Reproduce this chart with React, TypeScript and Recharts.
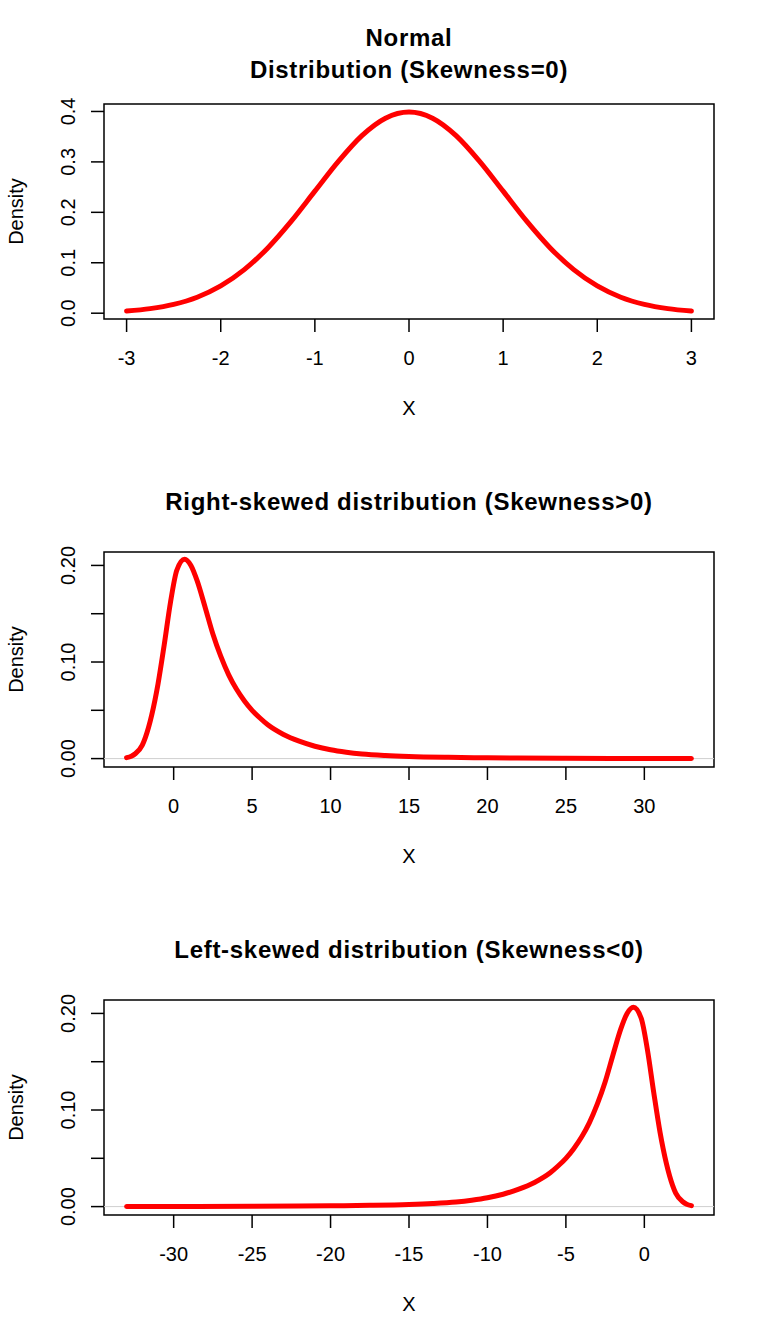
import React from 'react';
import { LineChart, Line, XAxis, YAxis, ReferenceArea, ReferenceLine, Label } from 'recharts';

// ---- data ----
const normalX = [-3, -2.75, -2.5, -2.25, -2, -1.75, -1.5, -1.25, -1, -0.75, -0.5, -0.25, 0, 0.25, 0.5, 0.75, 1, 1.25, 1.5, 1.75, 2, 2.25, 2.5, 2.75, 3];
const normalY = [0.0044, 0.0091, 0.0175, 0.0317, 0.054, 0.0863, 0.1295, 0.1826, 0.242, 0.3011, 0.3521, 0.3867, 0.3989, 0.3867, 0.3521, 0.3011, 0.242, 0.1826, 0.1295, 0.0863, 0.054, 0.0317, 0.0175, 0.0091, 0.0044];

const rightX = [-3, -2.7, -2.45, -2, -1.8, -1.4, -1, -0.6, -0.2, 0.2, 0.7, 1.1, 1.5, 2, 2.5, 3, 3.5, 4, 4.5, 5, 5.5, 6, 7, 8, 9, 10, 11, 12, 13.5, 15, 17.5, 20, 25, 30, 33];
const rightY = [0.001, 0.0025, 0.005, 0.014, 0.022, 0.045, 0.077, 0.118, 0.162, 0.195, 0.2065, 0.2, 0.184, 0.157, 0.129, 0.106, 0.087, 0.072, 0.06, 0.05, 0.042, 0.035, 0.025, 0.018, 0.0128, 0.0091, 0.0066, 0.0048, 0.0032, 0.0022, 0.0013, 0.0008, 0.0003, 0.0001, 0];

const leftX = [-33, -30, -25, -20, -17.5, -15, -13.5, -12, -11, -10, -9, -8, -7, -6, -5.5, -5, -4.5, -4, -3.5, -3, -2.5, -2, -1.5, -1.1, -0.7, -0.2, 0.2, 0.6, 1, 1.4, 1.8, 2, 2.45, 2.7, 3];
const leftY = [0, 0.0001, 0.0003, 0.0008, 0.0013, 0.0022, 0.0032, 0.0048, 0.0066, 0.0091, 0.0128, 0.018, 0.025, 0.035, 0.042, 0.05, 0.06, 0.072, 0.087, 0.106, 0.129, 0.157, 0.184, 0.2, 0.2065, 0.195, 0.162, 0.118, 0.077, 0.045, 0.022, 0.014, 0.005, 0.0025, 0.001];

const normalXTicks = [-3, -2, -1, 0, 1, 2, 3];
const normalYTicks = [0, 0.1, 0.2, 0.3, 0.4];
const rightXTicks = [0, 5, 10, 15, 20, 25, 30];
const leftXTicks = [-30, -25, -20, -15, -10, -5, 0];
const skewYTicks = [0, 0.05, 0.1, 0.15, 0.2];
const skewYLabeled = [0, 0.1, 0.2];

const FONT = '"Liberation Sans", Arial, Helvetica, sans-serif';
const LABEL_SIZE = 20;
const TITLE_SIZE = 24;

const toRows = (xs: number[], ys: number[]) => xs.map((x, i) => ({ x, y: ys[i] }));

type PanelProps = {
  xs: number[];
  ys: number[];
  xDomain: [number, number];
  yDomain: [number, number];
  xTicks: number[];
  yTicks: number[];
  yLabel: (v: number) => string;
  title: string[];
  zeroLine: boolean;
  top: number;
};

const XTick = (props: any) => {
  const { x, y, payload } = props;
  return (
    <text x={x} y={y + 33} textAnchor="middle" fontFamily={FONT} fontSize={LABEL_SIZE} fill="#000">
      {String(payload.value)}
    </text>
  );
};

const makeYTick = (fmt: (v: number) => string) => (props: any) => {
  const { x, y, payload } = props;
  const tx = x - 16;
  const s = fmt(payload.value);
  if (!s) return <g />;
  return (
    <text x={tx} y={y} transform={`rotate(-90, ${tx}, ${y})`} textAnchor="middle" fontFamily={FONT} fontSize={LABEL_SIZE} fill="#000">
      {s}
    </text>
  );
};

const Panel = ({ xs, ys, xDomain, yDomain, xTicks, yTicks, yLabel, title, zeroLine, top }: PanelProps) => {
  const data = toRows(xs, ys);
  const cx = (104 + 714) / 2;
  const baselines = title.length === 2 ? [45.5, 78] : [61.5];
  return (
    <div style={{ position: 'absolute', left: 0, top, width: 768, height: 448 }}>
      <LineChart width={768} height={448} data={data} margin={{ top: 104, right: 54, bottom: 33, left: 0 }}>
        <XAxis
          dataKey="x"
          type="number"
          domain={xDomain}
          ticks={xTicks}
          allowDataOverflow
          axisLine={false}
          tickLine={{ stroke: '#000', strokeWidth: 1.5 }}
          tickSize={13}
          tickMargin={0}
          height={96}
          interval={0}
          tick={<XTick />}
        >
          <Label value="X" position="insideBottom" offset={0} style={{ fontFamily: FONT, fontSize: LABEL_SIZE, fill: '#000' }} />
        </XAxis>
        <YAxis
          type="number"
          domain={yDomain}
          ticks={yTicks}
          allowDataOverflow
          axisLine={false}
          tickLine={{ stroke: '#000', strokeWidth: 1.5 }}
          tickSize={13}
          tickMargin={0}
          width={104}
          interval={0}
          tick={makeYTick(yLabel)}
        >
          <Label
            value="Density"
            angle={-90}
            position="insideLeft"
            offset={15.5}
            style={{ textAnchor: 'middle', fontFamily: FONT, fontSize: LABEL_SIZE, fill: '#000' }}
          />
        </YAxis>
        {zeroLine && <ReferenceLine y={0} stroke="#cfcfcf" strokeWidth={1} />}
        <ReferenceArea x1={xDomain[0]} x2={xDomain[1]} y1={yDomain[0]} y2={yDomain[1]} fill="none" fillOpacity={0} stroke="#000" strokeWidth={1.5} />
        <Line
          dataKey="y"
          type="monotone"
          stroke="#ff0000"
          strokeWidth={5}
          strokeLinecap="round"
          strokeLinejoin="round"
          dot={false}
          activeDot={false}
          isAnimationActive={false}
        />
      </LineChart>
      <svg width={768} height={448} style={{ position: 'absolute', left: 0, top: 0, pointerEvents: 'none' }}>
        {title.map((t, i) => (
          <text key={i} x={cx} y={baselines[i]} textAnchor="middle" fontFamily={FONT} fontSize={TITLE_SIZE} fontWeight="bold" letterSpacing={0.7} fill="#000">
            {t}
          </text>
        ))}
      </svg>
    </div>
  );
};

export default function App() {
  return (
    <div style={{ position: 'absolute', left: 0, top: 0, width: 768, height: 1344, background: '#fff' }}>
      <Panel
        xs={normalX}
        ys={normalY}
        xDomain={[-3.24, 3.24]}
        yDomain={[-0.0115, 0.4148]}
        xTicks={normalXTicks}
        yTicks={normalYTicks}
        yLabel={(v) => v.toFixed(1)}
        title={['Normal', 'Distribution (Skewness=0)']}
        zeroLine={false}
        top={0}
      />
      <Panel
        xs={rightX}
        ys={rightY}
        xDomain={[-4.44, 34.44]}
        yDomain={[-0.0087, 0.2139]}
        xTicks={rightXTicks}
        yTicks={skewYTicks}
        yLabel={(v) => (skewYLabeled.some((l) => Math.abs(l - v) < 1e-9) ? v.toFixed(2) : '')}
        title={['Right-skewed distribution (Skewness>0)']}
        zeroLine={true}
        top={448}
      />
      <Panel
        xs={leftX}
        ys={leftY}
        xDomain={[-34.44, 4.44]}
        yDomain={[-0.0087, 0.2139]}
        xTicks={leftXTicks}
        yTicks={skewYTicks}
        yLabel={(v) => (skewYLabeled.some((l) => Math.abs(l - v) < 1e-9) ? v.toFixed(2) : '')}
        title={['Left-skewed distribution (Skewness<0)']}
        zeroLine={true}
        top={896}
      />
    </div>
  );
}
